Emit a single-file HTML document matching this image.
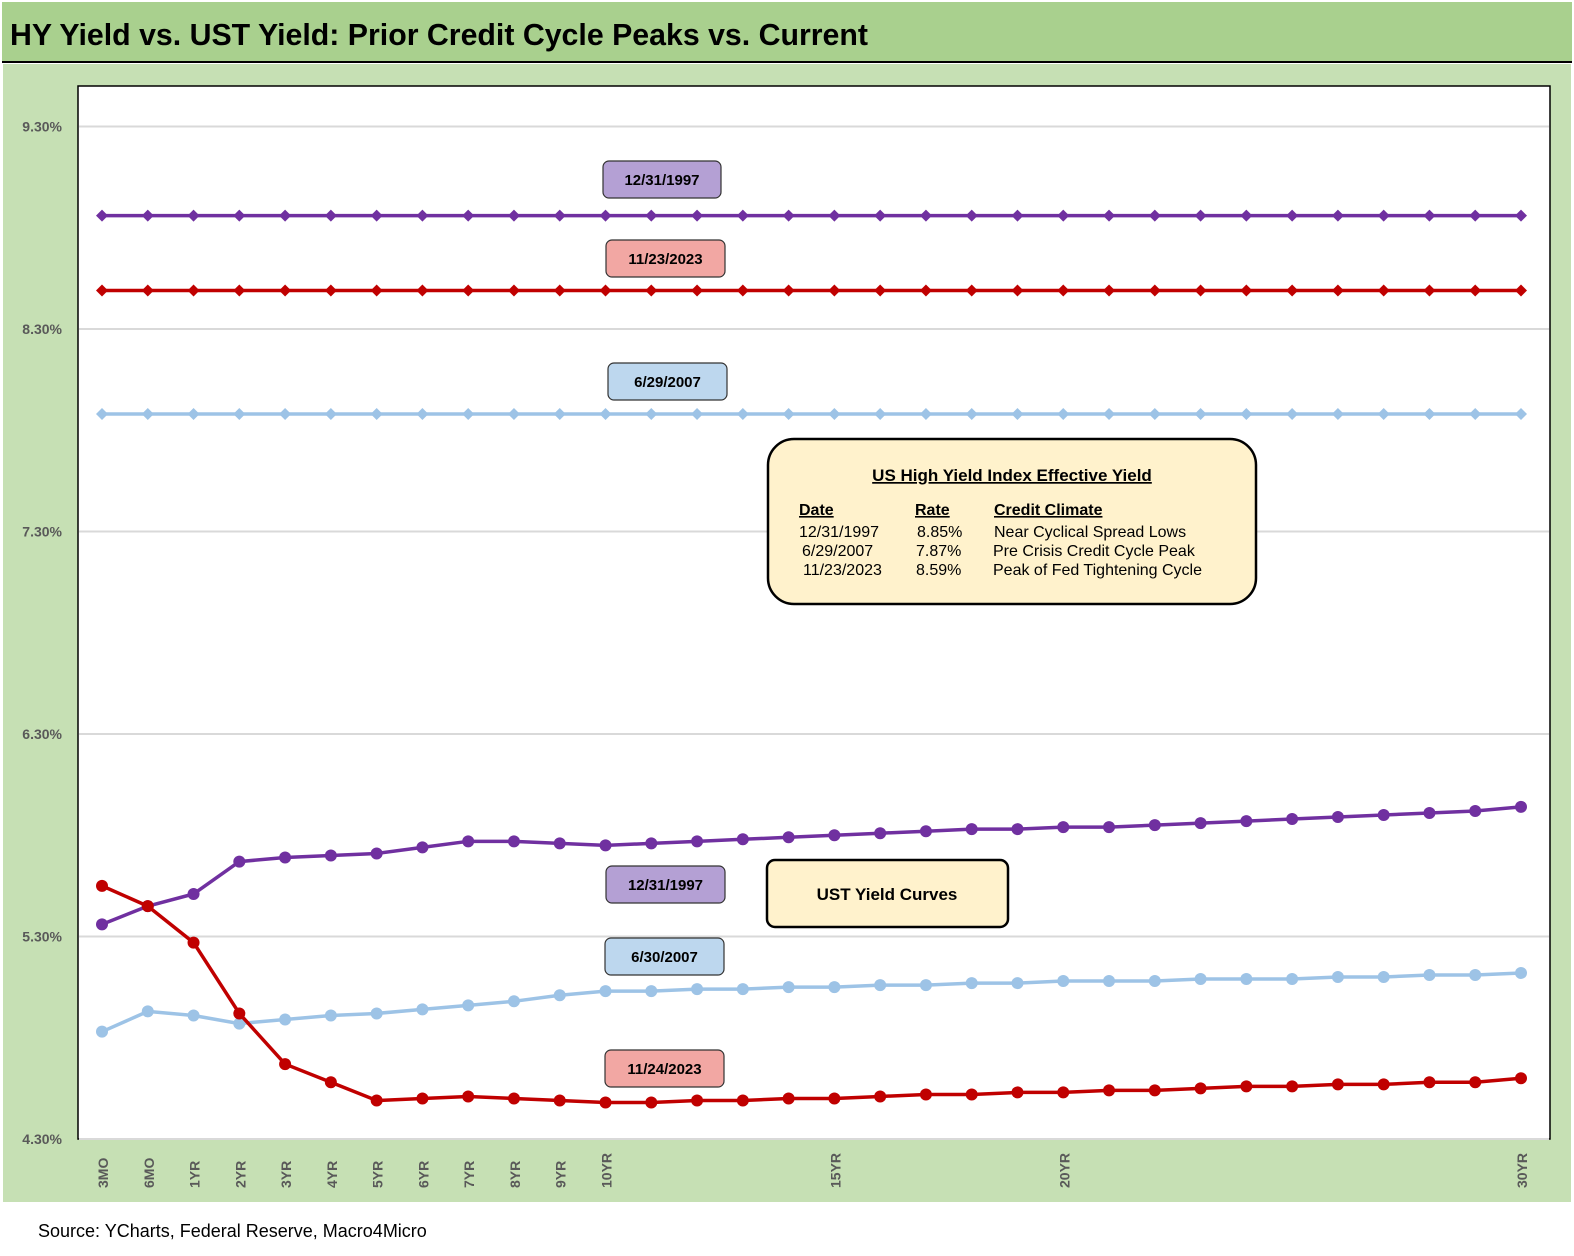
<!DOCTYPE html>
<html><head><meta charset="utf-8"><style>
html,body{margin:0;padding:0;width:1574px;height:1256px;overflow:hidden;background:#fff;font-family:"Liberation Sans",sans-serif}
svg text{font-family:"Liberation Sans",sans-serif}
</style></head><body>
<svg id="chart" width="1574" height="1256" xmlns="http://www.w3.org/2000/svg">
<rect x="0" y="0" width="1574" height="1256" fill="#fff"/>
<rect x="2" y="2" width="1570" height="60" fill="#a9d08e"/>
<line x1="2" y1="62" x2="1572" y2="62" stroke="#000" stroke-width="2"/>
<text x="10" y="45" font-size="31" font-weight="bold" fill="#000" textLength="858" lengthAdjust="spacingAndGlyphs">HY Yield vs. UST Yield: Prior Credit Cycle Peaks vs. Current</text>
<rect x="3" y="64" width="1568" height="1138" fill="#c6e0b4"/>
<rect x="78" y="86" width="1472" height="1053" fill="#fff" stroke="#000" stroke-width="1.5"/>
<g id="grid"></g>
<g id="series"></g>
<g id="labels"></g>
<text x="38" y="1237" font-size="18" fill="#000">Source: YCharts, Federal Reserve, Macro4Micro</text>
</svg>
<script>
const categories=["3MO","6MO","1YR","2YR","3YR","4YR","5YR","6YR","7YR","8YR","9YR","10YR","11YR","12YR","13YR","14YR","15YR","16YR","17YR","18YR","19YR","20YR","21YR","22YR","23YR","24YR","25YR","26YR","27YR","28YR","29YR","30YR"];
const shownTicks=["3MO","6MO","1YR","2YR","3YR","4YR","5YR","6YR","7YR","8YR","9YR","10YR","15YR","20YR","30YR"];
const yTicks=[4.3,5.3,6.3,7.3,8.3,9.3];
const hy1997=8.86, hy2023=8.49, hy2007=7.88;
const ust1997=[5.36,5.45,5.51,5.67,5.69,5.70,5.71,5.74,5.77,5.77,5.76,5.75,5.76,5.77,5.78,5.79,5.80,5.81,5.82,5.83,5.83,5.84,5.84,5.85,5.86,5.87,5.88,5.89,5.90,5.91,5.92,5.94];
const ust2007=[4.83,4.93,4.91,4.87,4.89,4.91,4.92,4.94,4.96,4.98,5.01,5.03,5.03,5.04,5.04,5.05,5.05,5.06,5.06,5.07,5.07,5.08,5.08,5.08,5.09,5.09,5.09,5.10,5.10,5.11,5.11,5.12];
const ust2023=[5.55,5.45,5.27,4.92,4.67,4.58,4.49,4.50,4.51,4.50,4.49,4.48,4.48,4.49,4.49,4.50,4.50,4.51,4.52,4.52,4.53,4.53,4.54,4.54,4.55,4.56,4.56,4.57,4.57,4.58,4.58,4.60];

const NS="http://www.w3.org/2000/svg";
const x=i=>102+i*(1521-102)/31;
const y=v=>1139-(v-4.3)*202.5;
function mk(tag,attrs,parent,text){const e=document.createElementNS(NS,tag);for(const k in attrs)e.setAttribute(k,attrs[k]);if(text!=null)e.textContent=text;document.getElementById(parent).appendChild(e);return e;}

yTicks.forEach(t=>{
  const l=mk('line',{x1:79,x2:1549,y1:y(t),y2:y(t),stroke:'#d9d9d9','stroke-width':2},'grid');
  
  
  const tx=mk('text',{x:62,y:y(t)+5,'text-anchor':'end','font-size':14,'font-weight':'bold',fill:'#595959'},'grid',t.toFixed(2)+'%');
  
  
});
shownTicks.forEach(c=>{
  const i=categories.indexOf(c);
  const tx=mk('text',{transform:`translate(${x(i)+6},1188) rotate(-90)`,'font-size':14,'font-weight':'bold',fill:'#595959'},'grid',c);
  
  
});

function hyLine(v,color,name){
  const l=mk('line',{x1:x(0),x2:x(31),y1:y(v),y2:y(v),stroke:color,'stroke-width':3.5},'series');
  
  
  categories.forEach((c,i)=>{
    const d=mk('polygon',{points:`${x(i)},${y(v)-6} ${x(i)+6},${y(v)} ${x(i)},${y(v)+6} ${x(i)-6},${y(v)}`,fill:color},'series');
    
    
  });
}
hyLine(hy1997,'#7030a0','hy-1997-line');
hyLine(hy2023,'#c00000','hy-2023-line');
hyLine(hy2007,'#9dc3e6','hy-2007-line');

function ust(arr,color,name){
  const p=mk('polyline',{points:arr.map((v,i)=>x(i)+','+y(v)).join(' '),fill:'none',stroke:color,'stroke-width':3.5},'series');
  
  
  arr.forEach((v,i)=>{
    const c=mk('circle',{cx:x(i),cy:y(v),r:6,fill:color},'series');
    
    
  });
}
ust(ust2007,'#9dc3e6','ust-2007-curve');
ust(ust1997,'#7030a0','ust-1997-curve');
ust(ust2023,'#c00000','ust-2023-curve');

function tag(xc,yc,w,fill,text,name){
  const r=mk('rect',{x:xc,y:yc,width:w,height:37,rx:6,fill:fill,stroke:'#333','stroke-width':1.2},'labels');
  
  
  const t=mk('text',{x:xc+w/2,y:yc+24,'text-anchor':'middle','font-size':15,'font-weight':'bold',fill:'#000'},'labels',text);
  
  
}
tag(603,161,118,'#b4a0d4','12/31/1997','hy-1997-label');
tag(606,240,119,'#f2a7a3','11/23/2023','hy-2023-label');
tag(608,363,119,'#bdd7ee','6/29/2007','hy-2007-label');
tag(606,866,119,'#b4a0d4','12/31/1997','ust-1997-label');
tag(605,938,119,'#bdd7ee','6/30/2007','ust-2007-label');
tag(605,1050,119,'#f2a7a3','11/24/2023','ust-2023-label');

const box=mk('rect',{x:768,y:439,width:488,height:165,rx:26,fill:'#fff2cc',stroke:'#000','stroke-width':2.5},'labels');


const rows=[
 ['US High Yield Index Effective Yield',1012,481,17,true,'middle'],
 ['Date',799,515,16,true,'start'],['Rate',915,515,16,true,'start'],['Credit Climate',994,515,16,true,'start'],
 ['12/31/1997',799,537,16,false,'start'],['8.85%',917,537,16,false,'start'],['Near Cyclical Spread Lows',994,537,16,false,'start'],
 ['6/29/2007',802,556,16,false,'start'],['7.87%',916,556,16,false,'start'],['Pre Crisis Credit Cycle Peak',993,556,16,false,'start'],
 ['11/23/2023',803,575,16,false,'start'],['8.59%',916,575,16,false,'start'],['Peak of Fed Tightening Cycle',993,575,16,false,'start']];
rows.forEach(r=>{
  const t=mk('text',{x:r[1],y:r[2],'font-size':r[3],'font-weight':r[4]?'bold':'normal','text-anchor':r[5],fill:'#000','text-decoration':r[4]?'underline':'none'},'labels',r[0]);
  
  
});
const ub=mk('rect',{x:767,y:860,width:241,height:67,rx:8,fill:'#fff2cc',stroke:'#000','stroke-width':2.5},'labels');


const ut=mk('text',{x:887,y:900,'text-anchor':'middle','font-size':17,'font-weight':'bold',fill:'#000'},'labels','UST Yield Curves');


</script>
</body></html>
